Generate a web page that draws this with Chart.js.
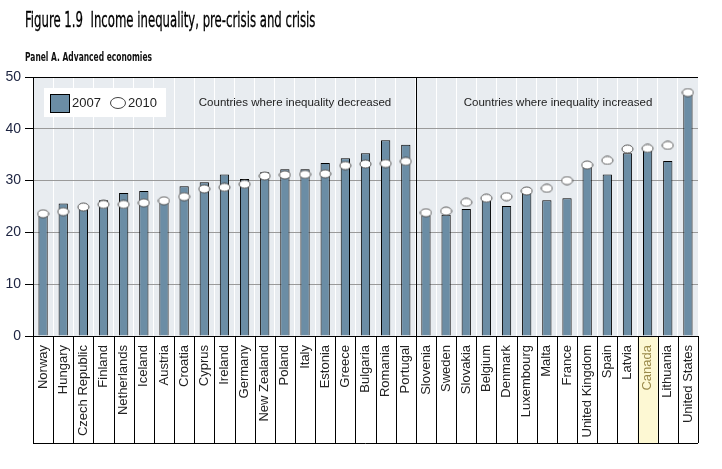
<!DOCTYPE html>
<html lang="en">
<head>
  <meta charset="UTF-8">
  <title>Income inequality, pre-crisis and crisis</title>
  <script src="https://cdn.jsdelivr.net/npm/chart.js"></script>
  <style>
    body {
      margin: 0;
      background: #fff;
    }

    .wrap {
      position: relative;
      width: 722px;
      height: 469px;
    }

    .title {
      position: absolute;
      left: 25px;
      top: 8px;
      font-family: 'DejaVu Sans Condensed', 'Liberation Sans', sans-serif;
      font-size: 21px;
      color: #000;
      white-space: pre;
      transform: scaleX(0.62);
      transform-origin: left top;
      -webkit-text-stroke: 0.3px #000;
    }

    .subtitle {
      position: absolute;
      left: 25px;
      top: 49px;
      font-family: 'DejaVu Sans Condensed', 'Liberation Sans', sans-serif;
      font-weight: bold;
      font-size: 12.5px;
      color: #111;
      white-space: pre;
      transform: scaleX(0.67);
      transform-origin: left top;
    }

    canvas {
      position: absolute;
      left: 0;
      top: 0;
    }
  </style>
</head>
<body>
  <div class="wrap">
    <canvas id="ineqChart" width="722" height="469"></canvas>
    <div class="title">Figure 1.9  Income inequality, pre-crisis and crisis</div>
    <div class="subtitle">Panel A. Advanced economies</div>
  </div>

  <script>
    // Countries, split into decreased (first 19) and increased (last 14)
    const countries = ["Norway", "Hungary", "Czech Republic", "Finland", "Netherlands", "Iceland", "Austria",
      "Croatia", "Cyprus", "Ireland", "Germany", "New Zealand", "Poland", "Italy", "Estonia", "Greece",
      "Bulgaria", "Romania", "Portugal", "Slovenia", "Sweden", "Slovakia", "Belgium", "Denmark",
      "Luxembourg", "Malta", "France", "United Kingdom", "Spain", "Latvia", "Canada", "Lithuania",
      "United States"];
    const gini2007 = [23.2, 25.6, 24.6, 26.2, 27.6, 28.0, 25.8, 28.9, 29.7, 31.2, 30.3, 31.6, 32.2, 32.2,
      33.4, 34.3, 35.3, 37.8, 36.9, 23.3, 23.4, 24.5, 26.2, 25.1, 27.6, 26.2, 26.6, 32.7, 31.2, 35.3,
      35.8, 33.8, 46.6];
    const gini2010 = [23.6, 24.0, 24.9, 25.4, 25.4, 25.7, 26.1, 26.9, 28.4, 28.7, 29.3, 30.9, 31.1, 31.2,
      31.3, 32.9, 33.2, 33.3, 33.7, 23.8, 24.1, 25.8, 26.6, 26.9, 28.0, 28.5, 30.0, 33.0, 33.9, 36.1,
      36.2, 36.8, 47.0];
    const yTicks = [0, 10, 20, 30, 40, 50];
    const seriesNames = ["2007", "2010"];
    const groupNotes = ["Countries where inequality decreased", "Countries where inequality increased"];
    const splitIndex = 19;
    const highlighted = "Canada";

    const BAR_COLOR = "#6b8da5";
    const LABEL_BOTTOM = 443;

    // white ellipse marker for 2010
    function makeEllipse() {
      const c = document.createElement("canvas");
      c.width = 13;
      c.height = 10;
      const g = c.getContext("2d");
      g.beginPath();
      g.ellipse(6.5, 5, 5.5, 4, 0, 0, Math.PI * 2);
      g.fillStyle = "#fff";
      g.fill();
      g.strokeStyle = "#555";
      g.lineWidth = 1;
      g.stroke();
      return c;
    }
    const ellipse = makeEllipse();

    // background, label boxes, divider, legend and notes
    const decorations = {
      id: "decorations",
      beforeDraw(chart) {
        const { ctx, chartArea, scales } = chart;
        const x = scales.x;
        ctx.save();
        ctx.fillStyle = "#e8ecf0";
        ctx.fillRect(chartArea.left, chartArea.top, chartArea.right - chartArea.left, chartArea.bottom - chartArea.top);
        const hi = countries.indexOf(highlighted);
        const half = (x.getPixelForValue(1) - x.getPixelForValue(0)) / 2;
        const cx = x.getPixelForValue(hi);
        ctx.fillStyle = "#fdf8d3";
        ctx.fillRect(cx - half, chartArea.bottom, half * 2, LABEL_BOTTOM - chartArea.bottom);
        ctx.restore();
      },
      afterDraw(chart) {
        const { ctx, chartArea, scales } = chart;
        const x = scales.x;
        const half = (x.getPixelForValue(1) - x.getPixelForValue(0)) / 2;
        ctx.save();
        // label box separators
        ctx.strokeStyle = "#000";
        ctx.lineWidth = 1;
        ctx.beginPath();
        for (let i = 0; i <= countries.length; i++) {
          const px = Math.round(x.getPixelForValue(i) - half) + 0.5;
          ctx.moveTo(px, chartArea.bottom);
          ctx.lineTo(px, LABEL_BOTTOM);
        }
        ctx.moveTo(chartArea.left, LABEL_BOTTOM + 0.5);
        ctx.lineTo(chartArea.right, LABEL_BOTTOM + 0.5);
        // divider between groups
        const dx = Math.round(x.getPixelForValue(splitIndex) - half) + 0.5;
        ctx.moveTo(dx, chartArea.top);
        ctx.lineTo(dx, chartArea.bottom);
        ctx.stroke();

        // legend box
        ctx.fillStyle = "#fff";
        ctx.fillRect(44, 88, 122, 29);
        ctx.fillStyle = BAR_COLOR;
        ctx.fillRect(50.5, 94.5, 19, 18);
        ctx.strokeRect(50.5, 94.5, 19, 18);
        ctx.beginPath();
        ctx.ellipse(118, 103, 7.5, 5.5, 0, 0, Math.PI * 2);
        ctx.fillStyle = "#fff";
        ctx.fill();
        ctx.strokeStyle = "#444";
        ctx.stroke();
        ctx.fillStyle = "#222";
        ctx.font = "13px 'Liberation Sans', Arial, sans-serif";
        ctx.textBaseline = "middle";
        ctx.textAlign = "left";
        ctx.fillText(seriesNames[0], 72, 103);
        ctx.fillText(seriesNames[1], 128, 103);

        // group notes
        ctx.font = "11.5px 'Liberation Sans', Arial, sans-serif";
        ctx.textAlign = "center";
        ctx.fillText(groupNotes[0], 295, 103);
        ctx.fillText(groupNotes[1], 558, 103);
        ctx.restore();
      }
    };

    new Chart(document.getElementById("ineqChart"), {
      type: "bar",
      data: {
        labels: countries,
        datasets: [{
          label: seriesNames[0],
          data: gini2007,
          backgroundColor: BAR_COLOR,
          borderColor: "#000",
          borderWidth: 1,
          barPercentage: 0.46,
          categoryPercentage: 1,
          order: 2
        }, {
          type: "line",
          label: seriesNames[1],
          data: gini2010,
          showLine: false,
          pointStyle: ellipse,
          pointRadius: 6,
          order: 1
        }]
      },
      options: {
        responsive: false,
        animation: false,
        layout: { padding: { top: 77, left: 0, right: 24, bottom: 26 } },
        plugins: {
          legend: { display: false },
          tooltip: { enabled: false }
        },
        scales: {
          x: {
            grid: { color: "#fff", lineWidth: 1, drawTicks: false },
            border: { color: "#000", width: 1 },
            afterFit(scale) { scale.height = 107; },
            ticks: {
              autoSkip: false,
              maxRotation: 90,
              minRotation: 90,
              padding: 9,
              color: (c) => countries[c.index] === highlighted ? "#9a8a4a" : "#222",
              font: { family: "'Liberation Sans', Arial, sans-serif", size: 13 }
            }
          },
          y: {
            min: 0,
            max: 50,
            afterFit(scale) { scale.width = 33; },
            afterBuildTicks(scale) { scale.ticks = yTicks.map(v => ({ value: v })); },
            grid: {
              color: (c) => c.tick && c.tick.value === 50 ? "#000" : "#9a9a9a",
              tickColor: "#000",
              tickLength: 8
            },
            border: { color: "#000", width: 1 },
            ticks: {
              padding: 4,
              color: "#1c2340",
              font: { family: "'Liberation Sans', Arial, sans-serif", size: 14 }
            }
          }
        }
      },
      plugins: [decorations]
    });
  </script>
</body>
</html>
